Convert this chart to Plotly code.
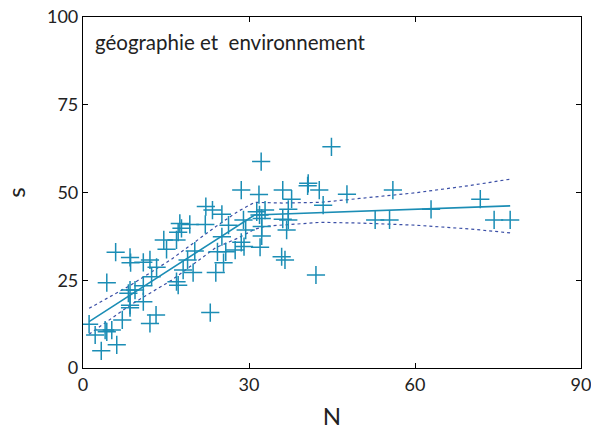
import plotly.graph_objects as go

# scatter data (N, s)
N_vals = [28.6, 31.8, 22.2, 23.4, 25.1, 31.4, 17.5, 19.3, 17.8, 22.1,
          17.2, 16.9, 26.3, 29.0, 29.4, 14.6, 15.1, 25.1, 28.6, 29.1,
          27.5, 24.3, 25.8, 5.9, 8.5, 8.6, 10.9, 12.1, 25.4, 13.3,
          20.2, 18.9, 18.1, 19.9, 24.0, 12.4, 4.3, 16.9, 17.2, 8.5,
          9.4, 8.2, 10.9, 10.9, 8.5, 8.5, 13.2, 12.1, 23.0, 7.1,
          1.1, 2.2, 4.0, 5.2, 4.3, 6.1, 3.3, 44.9, 32.2, 36.1,
          40.6, 40.7, 42.7, 47.7, 56.0, 37.7, 32.9, 31.9, 37.1, 43.4,
          32.3, 32.3, 36.1, 37.1, 36.8, 52.8, 55.4, 32.3, 32.0, 35.9,
          36.5, 42.1, 62.9, 71.8, 74.3, 77.2]
s_vals = [50.7, 49.4, 46.0, 45.0, 43.8, 44.5, 41.2, 40.9, 39.8, 40.9,
          38.7, 36.5, 40.7, 42.2, 39.3, 36.5, 33.8, 37.4, 35.8, 34.6,
          33.6, 33.1, 33.1, 33.0, 31.5, 30.0, 30.1, 30.8, 30.0, 28.7,
          33.3, 30.8, 27.9, 27.2, 27.2, 26.0, 24.3, 24.6, 23.6, 22.2,
          22.2, 21.3, 23.4, 18.9, 17.9, 17.2, 15.1, 12.7, 15.8, 13.7,
          12.5, 9.4, 10.8, 10.8, 10.3, 6.6, 4.9, 63.0, 58.8, 50.7,
          51.9, 52.6, 50.7, 49.5, 50.7, 48.1, 45.0, 43.6, 45.2, 46.4,
          42.6, 40.3, 42.4, 42.2, 39.3, 42.2, 42.2, 37.6, 34.4, 31.7,
          30.8, 26.5, 45.2, 48.1, 42.2, 42.2]

# fitted piecewise line
fit_N = [1.1, 31.0, 77.2]
fit_s = [13.2, 43.6, 46.2]

# confidence band
band_N = [1.1, 8.5, 16.0, 24.0, 28.0, 31.0, 36.0, 43.0, 50.0, 60.0, 70.0, 77.2]
band_up = [17.0, 23.5, 31.0, 40.3, 44.6, 47.2, 47.0, 47.2, 48.3, 49.9, 52.0, 53.8]
band_lo_N = [1.1, 8.5, 16.0, 24.0, 28.0, 31.0, 33.0, 43.0, 50.0, 60.0, 70.0, 77.2]
band_lo = [9.6, 17.9, 25.0, 34.3, 37.0, 39.5, 40.4, 41.5, 41.3, 40.7, 39.6, 38.5]

x_ticks = [0, 30, 60, 90]
y_ticks = [0, 25, 50, 75, 100]

teal = "#1b8db5"
band_col = "#3b4fa6"
font_family = "Lato, 'Noto Sans', sans-serif"

fig = go.Figure()
fig.add_trace(go.Scatter(x=band_N, y=band_up, mode="lines",
                         line=dict(color=band_col, width=1.2, dash="dot"),
                         showlegend=False, hoverinfo="skip"))
fig.add_trace(go.Scatter(x=band_lo_N, y=band_lo, mode="lines",
                         line=dict(color=band_col, width=1.2, dash="dot"),
                         showlegend=False, hoverinfo="skip"))
fig.add_trace(go.Scatter(x=fit_N, y=fit_s, mode="lines",
                         line=dict(color=teal, width=1.6),
                         showlegend=False))
fig.add_trace(go.Scatter(x=N_vals, y=s_vals, mode="markers",
                         marker=dict(symbol="cross-thin-open", size=13, color=teal,
                                     line=dict(color=teal, width=1.5)),
                         showlegend=False))

axis_common = dict(showline=True, linecolor="black", linewidth=1.2, mirror="ticks",
                   ticks="inside", ticklen=5, tickcolor="black", tickwidth=1,
                   showgrid=False, zeroline=False, automargin=False,
                   ticklabeloverflow="allow",
                   tickfont=dict(family=font_family, size=18, color="#222"))

fig.update_xaxes(range=[0, 90], tickvals=x_ticks,
                 title=dict(text="N", font=dict(family=font_family, size=24, color="#222"),
                            standoff=16),
                 **axis_common)
fig.update_yaxes(range=[0, 100], tickvals=y_ticks,
                 title=dict(text="s", font=dict(family=font_family, size=24, color="#222"),
                            standoff=14),
                 **axis_common)

fig.add_annotation(text="géographie et  environnement", xref="paper", yref="paper",
                   x=0.02, y=0.97, xanchor="left", yanchor="top", showarrow=False,
                   font=dict(family=font_family, size=20.5, color="#222"))

fig.update_layout(width=591, height=430, plot_bgcolor="white", paper_bgcolor="white",
                  margin=dict(l=83, r=10, t=17, b=62))

fig.write_html("out.html", config={"displayModeBar": False},
               post_script="document.body.style.margin='0';document.body.style.overflow='hidden';")
